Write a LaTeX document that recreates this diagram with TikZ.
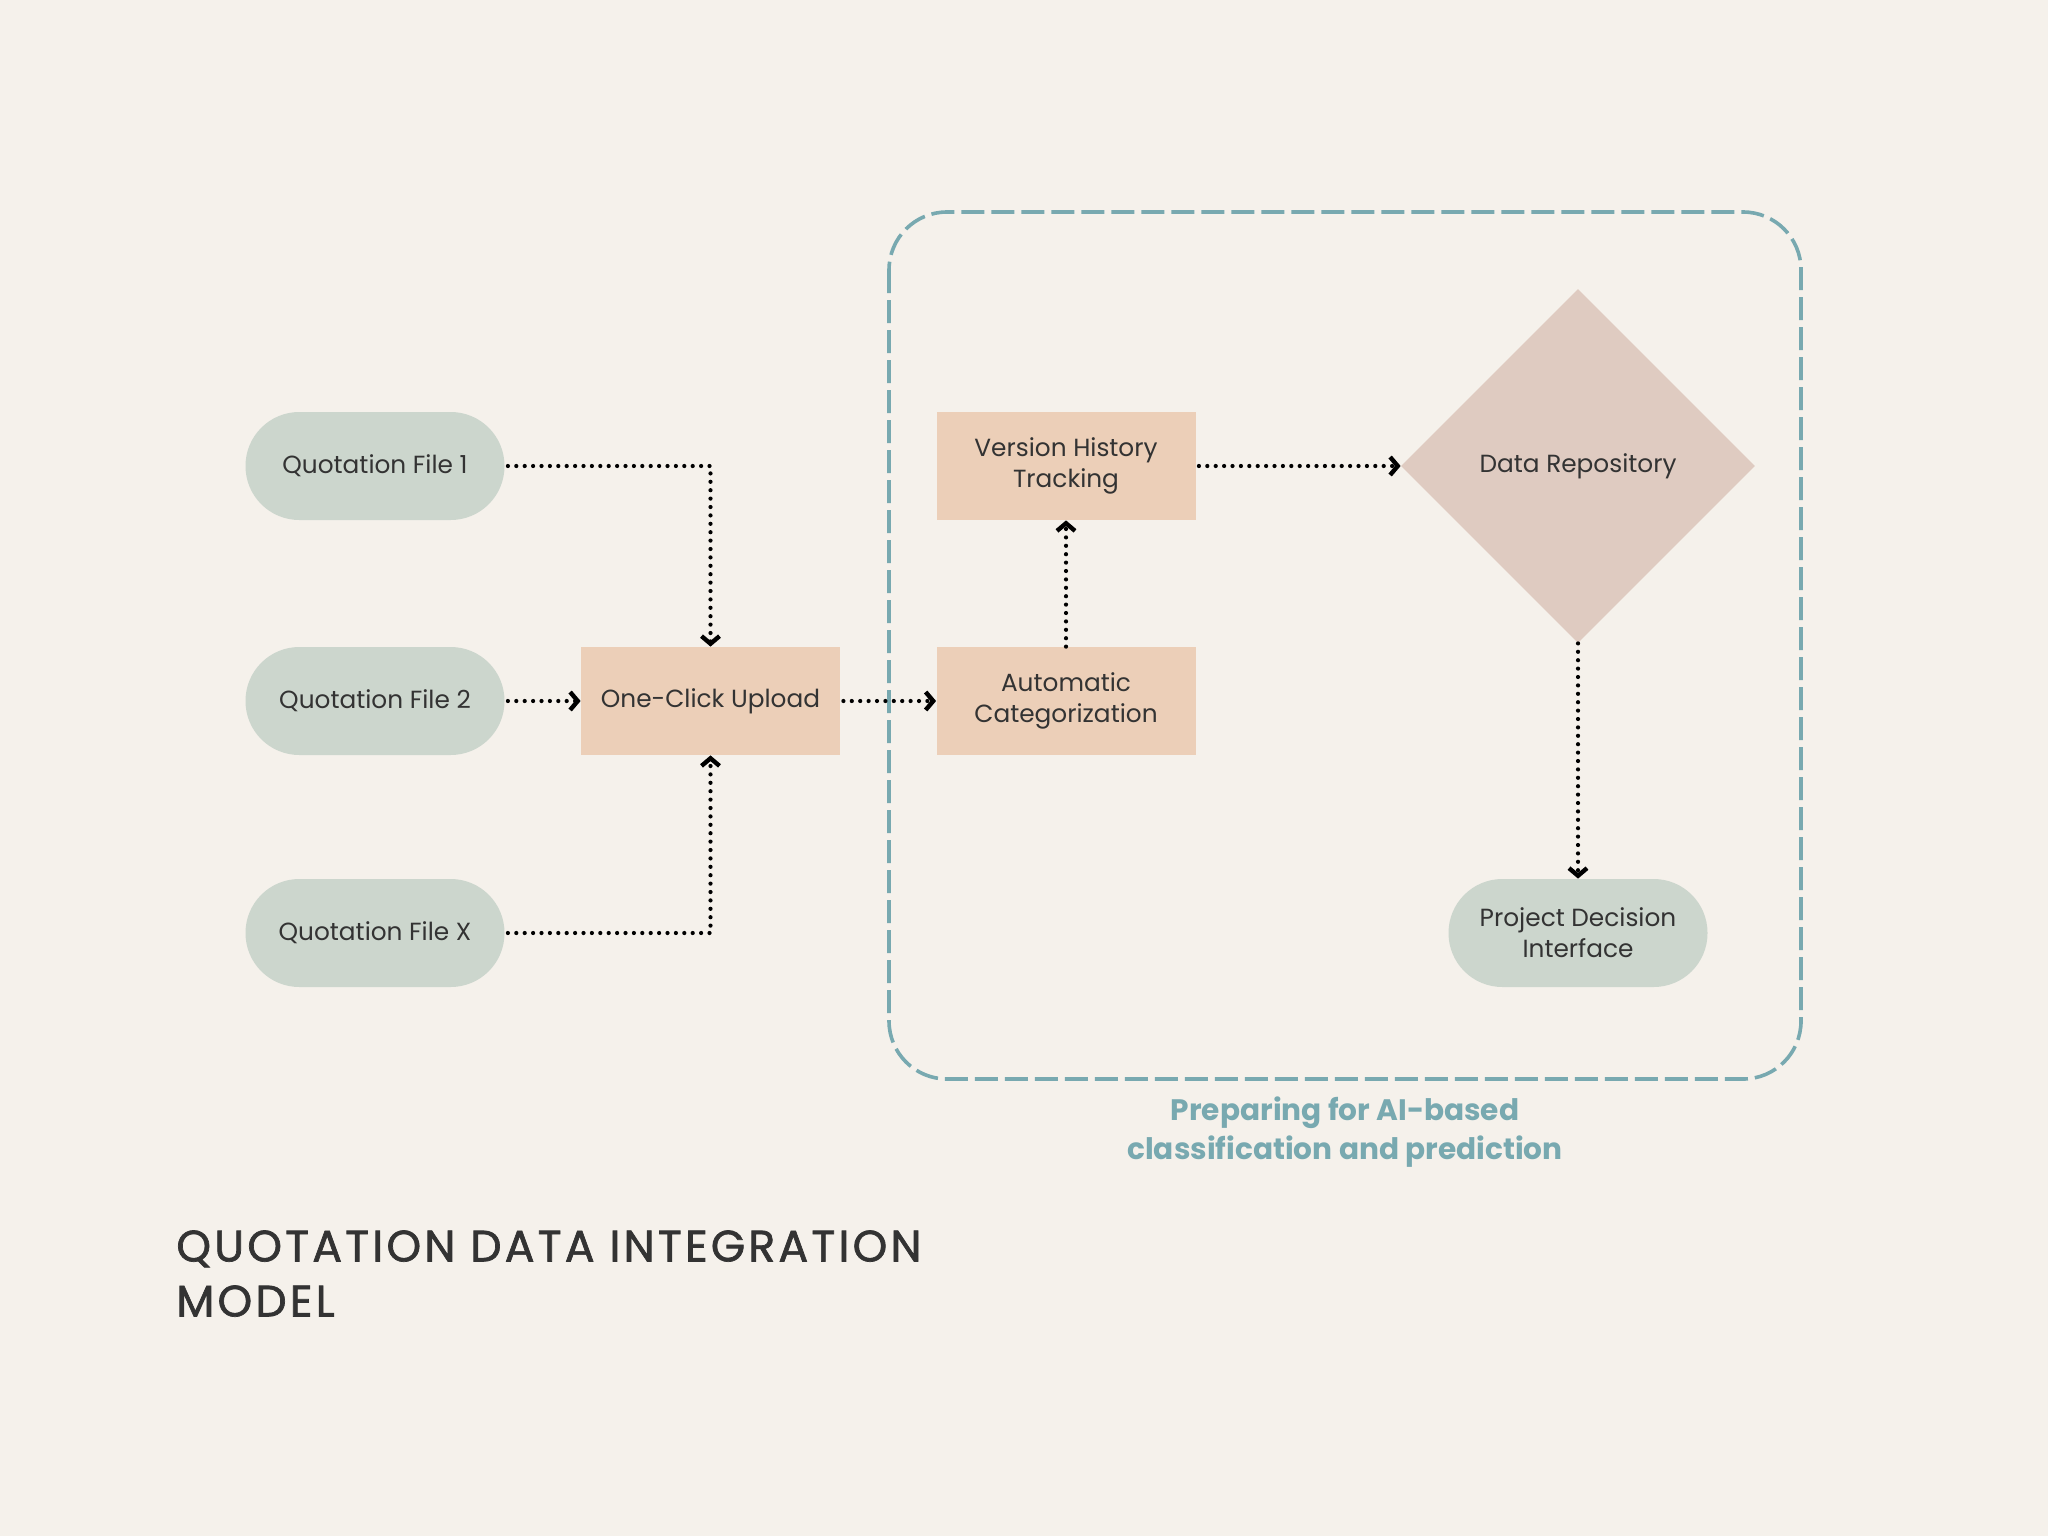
\documentclass[tikz,border=0pt]{standalone}
\usepackage{fontspec}
\setmainfont{Poppins}
\newfontfamily\titlefont[LetterSpace=7.5,FakeBold=1.6]{Poppins}
\usetikzlibrary{arrows.meta,shapes.geometric}
\definecolor{bg}{HTML}{F5F1EB}
\definecolor{pillc}{HTML}{CCD6CD}
\definecolor{rectc}{HTML}{ECCFB8}
\definecolor{diac}{HTML}{DFCBC1}
\definecolor{teal}{HTML}{78A9B0}
\definecolor{txt}{HTML}{333333}
\tikzset{
  nodefont/.style={font=\fontsize{12.4}{15.5}\selectfont, text=txt},
  pill/.style={nodefont, fill=pillc, draw=none, minimum width=129.5pt, minimum height=54pt, rounded corners=26.9pt, align=center, inner sep=0pt},
  box/.style={nodefont, fill=rectc, draw=none, minimum width=129.5pt, minimum height=54pt, align=center, inner sep=0pt},
  dia/.style={nodefont, diamond, fill=diac, draw=none, minimum width=177pt, minimum height=177pt, inner sep=0pt, align=center},
  conn/.style={line width=2.1pt, dash pattern=on 0pt off 4.2pt, line cap=round, -{Straight Barb[length=3.8pt,width=9pt,line width=2.2pt]}},
  group/.style={draw=teal, line width=1.8pt, dash pattern=on 11.5pt off 3.5pt, rounded corners=29pt},
}
\begin{document}
\begin{tikzpicture}[x=0.5pt,y=-0.5pt]
\fill[bg] (0,0) rectangle (2048,1536);
\useasboundingbox (0,0) rectangle (2048,1536);

\draw[group] (889,212) rectangle (1801,1079);

\node[pill] (q1) at (375,466) {Quotation File 1};
\node[pill] (q2) at (375,701) {Quotation File 2};
\node[pill] (qx) at (375,933) {Quotation File X};
\node[box] (up) at (710.5,701) {One-Click Upload};
\node[box] (ac) at (1066,701) {Automatic\\Categorization};
\node[box] (vh) at (1066,466) {Version History\\Tracking};
\node[dia] (dr) at (1578,466) {Data Repository};
\node[pill] (pd) at (1578,933) {Project Decision\\Interface};

\draw[conn] ([xshift=1.5pt]q1.east) -| (up.north);
\draw[conn] ([xshift=1.5pt]q2.east) -- (up.west);
\draw[conn] ([xshift=1.5pt]qx.east) -| (up.south);
\draw[conn] ([xshift=1.5pt]up.east) -- (ac.west);
\draw[conn] (ac.north) -- (vh.south);
\draw[conn] ([xshift=1.5pt]vh.east) -- (dr.west);
\draw[conn] (dr.south) -- (pd.north);

\node[font=\fontsize{14.8}{19.5}\selectfont\bfseries, text=teal, align=center] (lab) at (1345,1132) {Preparing for AI-based\\classification and prediction};

\node[font=\titlefont\fontsize{22}{27.5}\selectfont, text=txt, align=left, anchor=north west, inner sep=0pt] (title) at (176,1230) {QUOTATION DATA INTEGRATION\\MODEL};
\end{tikzpicture}
\end{document}
